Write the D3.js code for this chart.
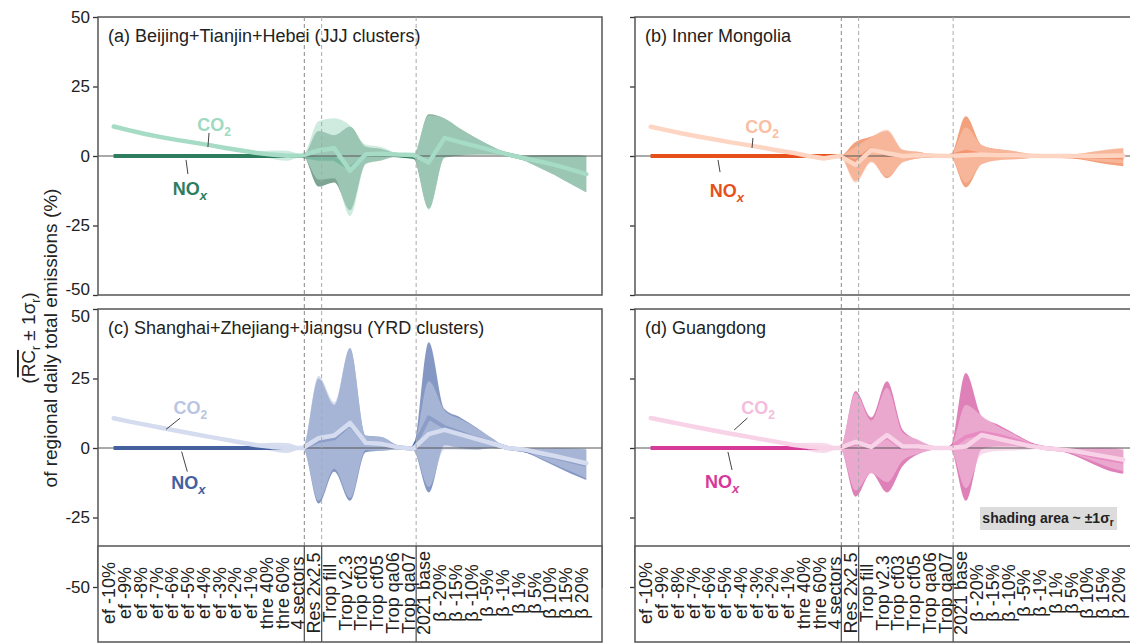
<!DOCTYPE html>
<html>
<head>
<meta charset="utf-8">
<script src="https://cdn.jsdelivr.net/npm/d3@7"></script>
<style>
  body { margin: 0; background: #fff; }
  svg { font-family: "Liberation Sans", Arial, sans-serif; }
</style>
</head>
<body>
<svg id="chart" width="1130" height="643"></svg>
<script>
const categories = [
  "ef -10%", "ef -9%", "ef -8%", "ef -7%", "ef -6%", "ef -5%", "ef -4%", "ef -3%", "ef -2%", "ef -1%",
  "thre 40%", "thre 60%", "4 sectors", "Res 2x2.5",
  "Trop fill", "Trop v2.3", "Trop cf03", "Trop cf05", "Trop qa06", "Trop qa07",
  "2021 base", "β -20%", "β -15%", "β -10%", "β -5%", "β -1%", "β 1%", "β 5%", "β 10%", "β 15%", "β 20%"
];
const yTicks = [50, 25, 0, -25, -50];
const dividers = [12.1, 13.2, 19.2];   // group separators, in category units
const titles = [
  "(a) Beijing+Tianjin+Hebei (JJJ clusters)",
  "(b) Inner Mongolia",
  "(c) Shanghai+Zhejiang+Jiangsu (YRD clusters)",
  "(d) Guangdong"
];

// (a) JJJ
const co2MeanA = [10.6, 9.2, 7.9, 6.8, 5.8, 4.9, 4.0, 3.0, 2.1, 1.2, 0.5, 0.1, 0.2, 2.0, 2.8, -5.3, 0.6, 0.8, 0.5, 0.4, -2.3, 6.5, 5.0, 3.5, 2.0, 0.6, -0.7, -1.9, -3.2, -4.8, -6.5];
const co2SdA   = [0, 0, 0, 0, 0, 0, 0, 0, 0.2, 0.5, 1.5, 1.8, 0.4, 10.5, 10.8, 16.3, 3.5, 2.4, 0.6, 0.4, 17, 7, 4.8, 3.0, 1.5, 0.5, 0.8, 2.2, 3.6, 5.2, 6.5];
const noxMeanA = [0, 0, 0, 0, 0, 0, 0, 0, 0, 0, 0, 0, 0, -1, -1, -4.5, 0.3, 0.5, 0.3, -0.3, -2, 6.5, 5.0, 3.5, 2.0, 0.6, -0.7, -1.9, -3.2, -4.8, -6.5];
const noxSdA   = [0, 0, 0, 0, 0, 0, 0, 0, 0, 0, 0, 0, 0, 10, 8.5, 15, 3, 2, 0.5, 0.3, 17, 7, 4.8, 3.0, 1.5, 0.5, 0.8, 2.2, 3.6, 5.2, 6.5];

// (b) Inner Mongolia
const co2MeanB = [10.5, 9.3, 8.1, 7.0, 6.0, 5.0, 4.1, 3.1, 2.1, 1.2, 0, -0.8, 0, -3.2, 2.2, 1.0, 0, 0.3, 0.1, 0, 0.3, 0.5, 0.4, 0.3, 0.1, 0, 0, 0, 0, 0.1, 0.2];
const co2SdB   = [0, 0, 0, 0, 0, 0, 0, 0, 0, 0.2, 0.5, 0.8, 0.2, 6.5, 4.5, 8.5, 2.3, 1.1, 0.3, 0.2, 10, 3.5, 2, 1.5, 0.8, 0.2, 0.2, 0.7, 1.5, 2.3, 2.8];
const noxMeanB = [0, 0, 0, 0, 0, 0, 0, 0, 0, 0, 0, 0, 0, -2, 2.5, 0.5, 0, 0.3, 0, 0, 1.5, 0.5, 0.5, 0.3, 0, 0, 0, -0.2, -0.3, -0.4, -0.5];
const noxSdB   = [0, 0, 0, 0, 0, 0, 0, 0, 0, 0, 0, 0, 0, 7, 4.5, 8.5, 2.2, 1.2, 0.3, 0.2, 12.8, 3.5, 2, 1.5, 0.8, 0.2, 0.2, 0.8, 1.7, 2.6, 3.2];

// (c) YRD
const co2MeanC = [10.7, 9.5, 8.4, 7.3, 6.2, 5.1, 4.1, 3.1, 2.1, 1.1, 0.4, 0, 0, 3.5, 4.5, 9.0, 1.8, 1.5, 0.3, -0.3, 5.0, 6.5, 4.9, 3.3, 1.7, 0, -0.5, -1.7, -2.9, -4.2, -5.5];
const co2SdC   = [0, 0, 0, 0, 0, 0, 0, 0, 0.2, 0.5, 1.5, 1.8, 0.3, 22.5, 12, 27, 2.5, 2.5, 0.8, 0.5, 19, 7, 5.5, 4, 1.8, 0.3, 0.5, 1.7, 3, 4.2, 5.5];
const noxMeanC = [0, 0, 0, 0, 0, 0, 0, 0, 0, 0, 0, 0, 0, 2.5, 3.5, 8.5, 1.5, 1.5, 0.3, -0.3, 11, 7.5, 5.5, 3.5, 1.8, 0, -0.7, -2.0, -3.3, -4.7, -6.0];
const noxSdC   = [0, 0, 0, 0, 0, 0, 0, 0, 0, 0, 0, 0, 0, 22.5, 12, 27.5, 3, 2.5, 0.8, 0.5, 27, 6.5, 5.5, 4, 1.8, 0.3, 0.6, 1.8, 3.2, 4.5, 5.5];

// (d) Guangdong
const co2MeanD = [10.8, 9.6, 8.5, 7.4, 6.3, 5.2, 4.2, 3.2, 2.2, 1.2, 0.4, 0, 0, 2.2, 0.4, 4.7, 0.5, 0.5, 0, 0, 0.5, 4.7, 3.4, 2.1, 0.8, 0, -0.5, -1.2, -2.2, -3.2, -4.2];
const co2SdD   = [0, 0, 0, 0, 0, 0, 0, 0, 0.2, 0.5, 1.5, 1.8, 0.3, 17.5, 9.5, 17, 5, 2.5, 0.6, 0.3, 15, 7, 4.5, 3, 1.4, 0.3, 0.5, 1.2, 2.4, 3.5, 4.2];
const noxMeanD = [0, 0, 0, 0, 0, 0, 0, 0, 0, 0, 0, 0, 0, 1.5, 1, 4, 0, 0.3, 0, 0, 4, 5.5, 4.5, 3, 1.2, 0, -0.5, -1.5, -2.8, -4, -5];
const noxSdD   = [0, 0, 0, 0, 0, 0, 0, 0, 0, 0, 0, 0, 0, 19, 10, 20, 6.5, 2.5, 0.6, 0.3, 23, 6, 4, 2.5, 1.2, 0.3, 0.5, 1.5, 2.8, 4, 4.3];

// label anchors in data units: [category index, value]
const co2LabelPos = [[5.3, 9.0], [6.0, 8.3], [3.8, 12.2], [5.75, 12.2]];
const noxLabelPos = [[3.75, -14], [3.75, -14.7], [3.65, -14.7], [3.45, -14.5]];
const co2Leaders = [[[6.05, 8.3], [5.98, 3.2]], [[6.49, 6.5], [6.43, 2.9]], [[4.21, 10.7], [3.32, 6.7]], [[6.14, 10.8], [5.3, 6.5]]];
const noxLeaders = [[[4.59, -1.4], [4.71, -6.5]], [[4.27, -1.4], [4.4, -5.8]], [[4.31, -1.3], [4.67, -8.5]], [[4.9, -1.4], [5.16, -7.9]]];

const W = 504, H = 278;
const colLeft = [98, 635];
const rowTop = [17, 309];
const boxTop = 546, boxH = 96;

const x = d3.scaleLinear().domain([-1, 31]).range([0, W]);
const y = d3.scaleLinear().domain([-50, 50]).range([H, 0]);

const palettes = [
  {noxArea: "rgb(70,125,100)",  co2Area: "rgb(175,222,202)", noxLine: "#2e7d5e", co2Line: "#a6dcc6", co2Text: "#9ddac1", noxText: "#2e7d5e"},
  {noxArea: "rgb(238,120,70)",  co2Area: "rgb(250,195,172)", noxLine: "#e8501a", co2Line: "#fdd5c2", co2Text: "#fbbea2", noxText: "#e8501a"},
  {noxArea: "rgb(81,108,171)",  co2Area: "rgb(188,200,227)", noxLine: "#44609f", co2Line: "#d5dcef", co2Text: "#b9c5e3", noxText: "#44609f"},
  {noxArea: "rgb(210,75,155)",  co2Area: "rgb(242,195,222)", noxLine: "#d6399a", co2Line: "#f8d3e7", co2Text: "#f4bcdc", noxText: "#d6399a"}
];

const series = [
  [noxMeanA, noxSdA, co2MeanA, co2SdA],
  [noxMeanB, noxSdB, co2MeanB, co2SdB],
  [noxMeanC, noxSdC, co2MeanC, co2SdC],
  [noxMeanD, noxSdD, co2MeanD, co2SdD]
];

const svg = d3.select("#chart");

series.forEach(function (s, k) {
  const col = k % 2, row = Math.floor(k / 2);
  const pal = palettes[k];
  const g = svg.append("g").attr("transform", "translate(" + colLeft[col] + "," + rowTop[row] + ")");

  g.append("clipPath").attr("id", "clip" + k)
    .append("rect").attr("width", W).attr("height", H);

  const rows = categories.map(function (c, i) {
    return {i: i, nm: s[0][i], ns: s[1][i], cm: s[2][i], cs: s[3][i]};
  });

  const band = function (m, sd) {
    return d3.area()
      .x(function (d) { return x(d.i); })
      .y0(function (d) { return y(d[m] - d[sd]); })
      .y1(function (d) { return y(d[m] + d[sd]); })
      .curve(d3.curveMonotoneX);
  };
  const mean = function (m) {
    return d3.line()
      .x(function (d) { return x(d.i); })
      .y(function (d) { return y(d[m]); });
  };

  const plot = g.append("g").attr("clip-path", "url(#clip" + k + ")");

  plot.append("path").attr("d", band("nm", "ns")(rows))
    .attr("fill", pal.noxArea).attr("fill-opacity", 0.7);
  plot.append("path").attr("d", mean("nm")(rows))
    .attr("fill", "none").attr("stroke", pal.noxLine).attr("stroke-width", 4)
    .attr("stroke-linejoin", "round");
  plot.append("path").attr("d", band("cm", "cs")(rows))
    .attr("fill", pal.co2Area).attr("fill-opacity", 0.6);
  plot.append("line")
    .attr("x1", 0).attr("x2", W).attr("y1", y(0)).attr("y2", y(0))
    .attr("stroke", "#555").attr("stroke-width", 1);
  // NOx line again over the zero line where the bands are empty (emission-factor group)
  plot.append("path").attr("d", mean("nm").defined(function (d) { return d.i < dividers[0]; })(rows))
    .attr("fill", "none").attr("stroke", pal.noxLine).attr("stroke-width", 4);
  plot.append("path").attr("d", mean("cm")(rows))
    .attr("fill", "none").attr("stroke", pal.co2Line).attr("stroke-width", 4.5)
    .attr("stroke-linejoin", "round").attr("stroke-linecap", "round");

  // y axis
  const axis = g.append("g")
    .call(d3.axisLeft(y).tickValues(yTicks).tickSize(5).tickPadding(3)
      .tickFormat(col === 0 ? function (d) { return String(d); } : ""));
  axis.select(".domain").remove();
  axis.selectAll(".tick line").attr("stroke", "#333").attr("stroke-width", 1.3);
  axis.selectAll(".tick text").attr("font-size", 17).attr("fill", "#222")
    .attr("font-family", "'Liberation Sans', Arial, sans-serif")
    .attr("dy", function (d) {
      if (row === 0 && d === -50) return "-0.05em";
      if (row === 1 && d === 50) return "0.75em";
      return "0.32em";
    });

  // frame
  g.append("rect").attr("width", W).attr("height", H)
    .attr("fill", "none").attr("stroke", "#555").attr("stroke-width", 1.5);

  // panel title
  g.append("text").attr("x", 10).attr("y", 25)
    .attr("font-size", 18).attr("fill", "#222").text(titles[k]);

  // series labels with leader lines
  const leader = d3.line().x(function (d) { return x(d[0]); }).y(function (d) { return y(d[1]); });
  g.append("path").attr("d", leader(co2Leaders[k])).attr("stroke", "#444").attr("stroke-width", 1).attr("fill", "none");
  g.append("path").attr("d", leader(noxLeaders[k])).attr("stroke", "#444").attr("stroke-width", 1).attr("fill", "none");

  const co2 = g.append("text")
    .attr("x", x(co2LabelPos[k][0])).attr("y", y(co2LabelPos[k][1]))
    .attr("font-size", 18).attr("font-weight", "bold").attr("fill", pal.co2Text);
  co2.append("tspan").text("CO");
  co2.append("tspan").attr("dy", 5).attr("font-size", 12).text("2");

  const nox = g.append("text")
    .attr("x", x(noxLabelPos[k][0])).attr("y", y(noxLabelPos[k][1]))
    .attr("font-size", 18).attr("font-weight", "bold").attr("fill", pal.noxText);
  nox.append("tspan").text("NO");
  nox.append("tspan").attr("dy", 5).attr("font-size", 13).attr("font-style", "italic").text("x");
});

// dashed group separators through both rows
colLeft.forEach(function (left) {
  svg.append("g").attr("transform", "translate(" + left + ",0)")
    .selectAll("line").data(dividers).join("line")
    .attr("x1", function (d) { return x(d); }).attr("x2", function (d) { return x(d); })
    .attr("y1", rowTop[0]).attr("y2", boxTop)
    .attr("stroke", function (d, i) { return i === 0 ? "#888" : "#aaa"; })
    .attr("stroke-width", 1).attr("stroke-dasharray", "4,3");
});

// category label boxes under the bottom row
colLeft.forEach(function (left) {
  const b = svg.append("g").attr("transform", "translate(" + left + "," + boxTop + ")");
  b.append("rect").attr("width", W).attr("height", boxH)
    .attr("fill", "#fff").attr("stroke", "#555").attr("stroke-width", 1.5);
  b.selectAll("line").data(dividers).join("line")
    .attr("x1", function (d) { return x(d); }).attr("x2", function (d) { return x(d); })
    .attr("y1", 0).attr("y2", boxH)
    .attr("stroke", "#555").attr("stroke-width", 1.3);
  b.selectAll("text.cat").data(categories).join("text")
    .attr("class", "cat")
    .attr("transform", function (d, i) { return "translate(" + (x(i) + 1.5) + "," + 47 + ") rotate(-90)"; })
    .attr("text-anchor", "middle")
    .attr("font-size", 18).attr("fill", "#222")
    .text(function (d) { return d; });
});

// shading note
const note = svg.append("g").attr("transform", "translate(980,507)");
note.append("rect").attr("width", 137).attr("height", 23).attr("fill", "#dcdcdc");
const nt = note.append("text").attr("x", 68).attr("y", 16).attr("text-anchor", "middle")
  .attr("font-size", 14).attr("font-weight", "bold").attr("fill", "#222");
nt.append("tspan").text("shading area ~ ±1σ");
nt.append("tspan").attr("dy", 3).attr("font-size", 10).text("r");

// y-axis title
const yt1 = svg.append("text")
  .attr("transform", "translate(35,338) rotate(-90)")
  .attr("text-anchor", "middle").attr("font-size", 19).attr("fill", "#222");
yt1.append("tspan").text("(");
yt1.append("tspan").attr("text-decoration", "overline").text("RC");
yt1.append("tspan").attr("dy", 5).attr("font-size", 12).text("r");
yt1.append("tspan").attr("dy", -5).text(" ± 1σ");
yt1.append("tspan").attr("dy", 5).attr("font-size", 12).text("r");
yt1.append("tspan").attr("dy", -5).text(")");

svg.append("text")
  .attr("transform", "translate(57,338) rotate(-90)")
  .attr("text-anchor", "middle").attr("font-size", 19).attr("fill", "#222")
  .text("of regional daily total emissions (%)");
</script>
</body>
</html>
